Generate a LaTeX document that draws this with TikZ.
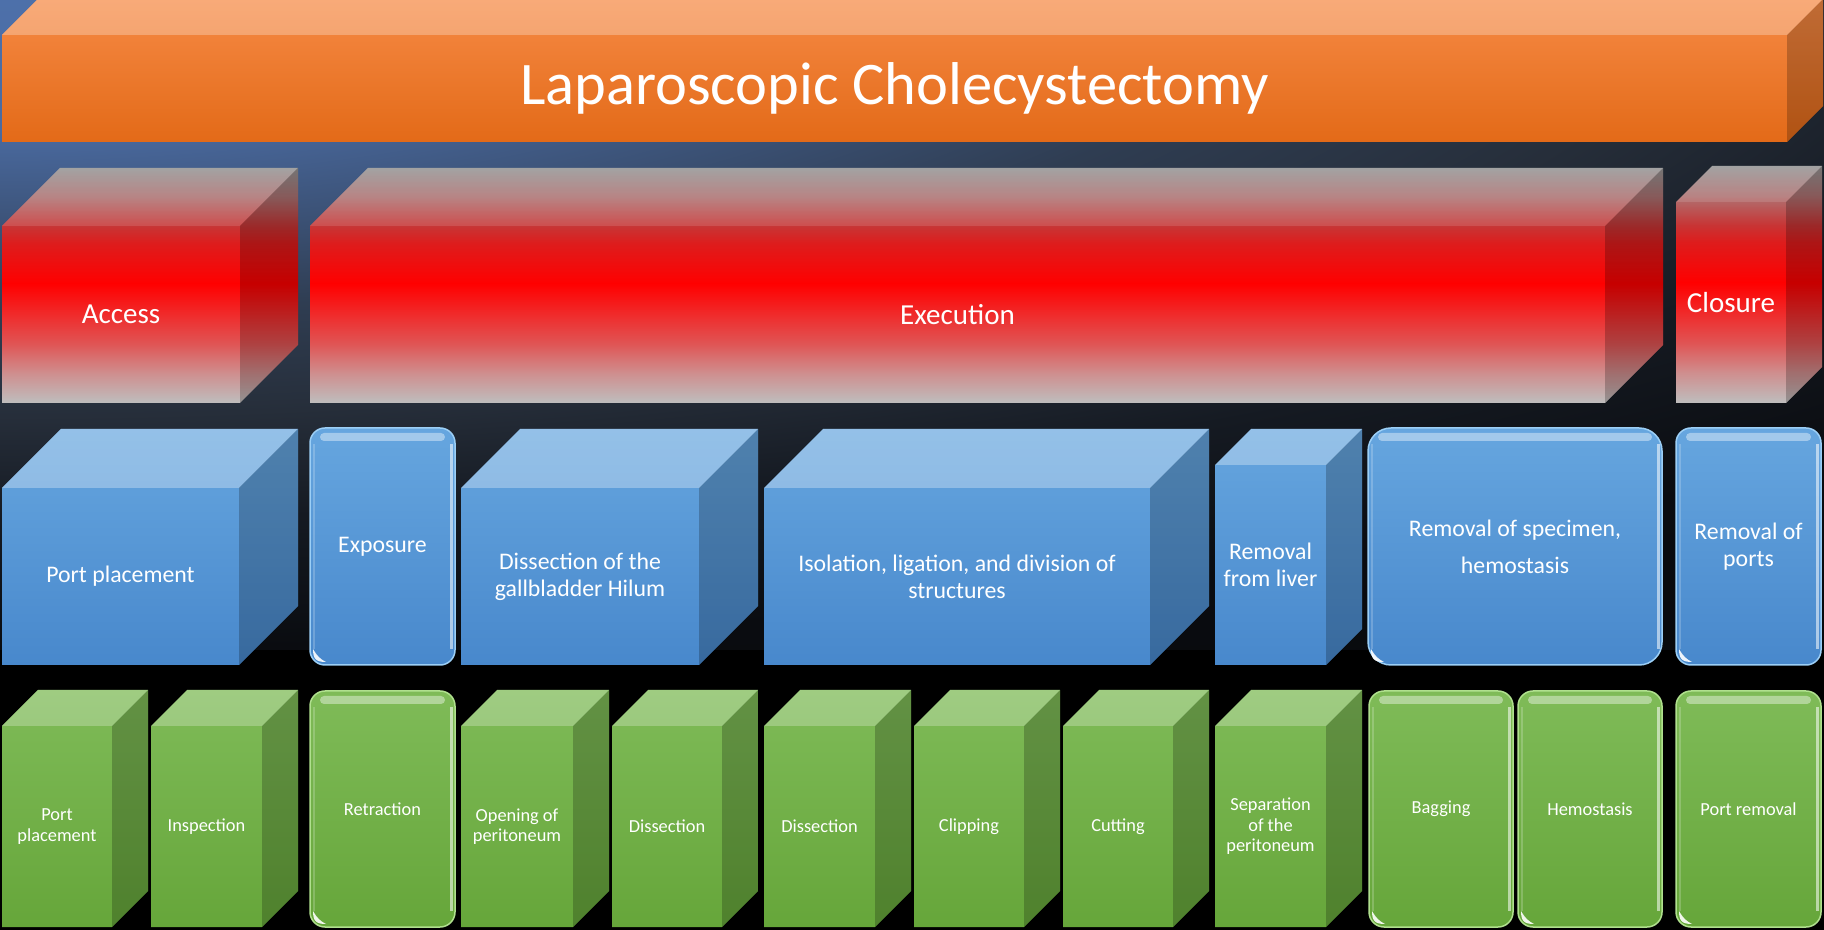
\documentclass[tikz,border=0pt]{standalone}
\usepackage{fontspec}
\setmainfont{Carlito}

\definecolor{bgA}{HTML}{4D70AA}
\definecolor{bgB}{HTML}{4A6AA0}
\definecolor{bgC}{HTML}{2F3D52}
\definecolor{bgD}{HTML}{262E3A}
\definecolor{bgE}{HTML}{151A22}
\definecolor{bgF}{HTML}{0A0C10}
\definecolor{redA}{HTML}{BEBEBE}
\definecolor{redB}{HTML}{CF8E8E}
\definecolor{redC}{HTML}{E05454}
\definecolor{redD}{HTML}{F02A2A}
\definecolor{redE}{HTML}{FF0000}
\definecolor{redF}{HTML}{DE1C1C}
\definecolor{redG}{HTML}{C83434}
\definecolor{redH}{HTML}{AE7474}
\definecolor{redI}{HTML}{969696}
\definecolor{orangeA}{HTML}{F68A45}
\definecolor{orangeB}{HTML}{E36A18}
\definecolor{blueA}{HTML}{66A6DF}
\definecolor{blueB}{HTML}{4888CC}
\definecolor{blueEdge}{HTML}{9CCFF6}
\definecolor{greenA}{HTML}{7FBB58}
\definecolor{greenB}{HTML}{66A63A}
\definecolor{greenEdge}{HTML}{B0E08E}

\pgfdeclareradialshading{bgglow}{\pgfpointorigin}{color(0bp)=(bgA); color(5bp)=(bgB);
  color(12bp)=(bgC); color(16bp)=(bgD); color(20bp)=(bgE); color(25bp)=(bgF); color(50bp)=(black)}
\pgfdeclareverticalshading{redglow}{100bp}{color(0bp)=(redA); color(25bp)=(redA);
  color(31.4bp)=(redB); color(37.7bp)=(redC); color(44bp)=(redD); color(50.4bp)=(redE);
  color(58.9bp)=(redF); color(62.5bp)=(redG); color(68.9bp)=(redH); color(75bp)=(redI); color(100bp)=(redI)}

\tikzset{
  orangebody/.style={top color=orangeA, bottom color=orangeB},
  redbody/.style={shading=redglow},
  bluebody/.style={top color=blueA, bottom color=blueB},
  greenbody/.style={top color=greenA, bottom color=greenB},
  orangetop/.style={fill=white, fill opacity=.28},
  redtop/.style={fill=white, fill opacity=.12},
  bluetop/.style={fill=white, fill opacity=.3},
  greentop/.style={fill=white, fill opacity=.25},
  sideface/.style={fill=black, fill opacity=.22},
  label/.style={text=white, align=center, inner sep=0pt},
  orangetext/.style={label, font=\fontsize{17.2pt}{20pt}\selectfont},
  redtext/.style={label, font=\fontsize{8.25pt}{9.9pt}\selectfont},
  bluetext/.style={label, font=\fontsize{6.77pt}{7.68pt}\selectfont},
  greentext/.style={label, font=\fontsize{5.23pt}{5.83pt}\selectfont},
}

% box with top and side face: name, left, right, front top, bottom, depth, family, text
\newcommand\prism[8]{%
  \shade[#7body] (#2,#5) -- (#2,#4) -- (#2+#6,#4-#6) -- (#3+#6,#4-#6) -- (#3+#6,#5-#6) -- (#3,#5) -- cycle;
  \fill[#7top] (#2,#4) -- (#2+#6,#4-#6) -- (#3+#6,#4-#6) -- (#3,#4) -- cycle;
  \fill[sideface] (#3,#4) -- (#3+#6,#4-#6) -- (#3+#6,#5-#6) -- (#3,#5) -- cycle;
  \node[#7text] (#1) at ({(#2+#3)/2},{(#4+#5)/2}) {#8};}

% glossy rounded box: name, left, right, top, bottom, corner, family, text
\newcommand\pill[8]{%
  \shadedraw[#7body, draw=#7Edge, line width=0.15mm, rounded corners=#6] (#2,#4) rectangle (#3,#5);
  \fill[white, fill opacity=.4, rounded corners=0.4mm] (#2+10,#4+5) rectangle (#3-10,#4+13);
  \draw[white, draw opacity=.55, line width=0.3mm] (#3-4,#4+16) -- (#3-4,#5-16);
  \draw[white, draw opacity=.2, line width=0.2mm] (#2+4,#4+16) -- (#2+4,#5-16);
  \fill[white, fill opacity=.9] (#2+3,#5-16) .. controls (#2+3,#5-6) and (#2+6,#5-3) .. (#2+16,#5-3)
    .. controls (#2+10,#5-6) and (#2+7,#5-9) .. cycle;
  \node[#7text] (#1) at ({(#2+#3)/2},{(#4+#5)/2}) {#8};}

\begin{document}
\begin{tikzpicture}[x=0.1mm, y=-0.1mm]
  \useasboundingbox (0,0) rectangle (1824,930);
  \begin{scope}
    \clip (0,0) rectangle (1824,930);
    \fill[black] (0,0) rectangle (1824,930);
    \shade[shading=bgglow] (-2600,-650) rectangle (2600,650);
  \end{scope}

  % procedure
  \prism{title}{2}{1787}{35}{142}{36}{orange}{Laparoscopic Cholecystectomy}

  % phases
  \prism{access}{2}{240}{226}{403}{58}{red}{Access}
  \prism{execution}{310}{1605}{226}{403}{58}{red}{Execution}
  \prism{closure}{1676}{1786}{202}{403}{36}{red}{Closure}

  % steps
  \prism{portplace}{2}{239}{488}{665}{59}{blue}{Port placement}
  \pill{exposure}{310}{455}{428}{665}{1.5mm}{blue}{Exposure}
  \prism{hilum}{461}{699}{488}{665}{59}{blue}{Dissection of the\\gallbladder Hilum}
  \prism{isolation}{764}{1150}{488}{665}{59}{blue}{Isolation, ligation, and division of\\structures}
  \prism{liver}{1215}{1326}{465}{665}{36}{blue}{Removal\\from liver}
  \pill{specimen}{1368}{1662}{428}{665}{2.3mm}{blue}{Removal of specimen,\\[1mm]hemostasis}
  \pill{ports}{1676}{1821}{428}{665}{1.5mm}{blue}{Removal of\\ports}

  % actions
  \prism{gport}{2}{112}{726}{927}{36}{green}{Port\\placement}
  \prism{inspect}{151}{262}{726}{927}{36}{green}{Inspection}
  \pill{retract}{310}{455}{691}{927}{1.5mm}{green}{Retraction}
  \prism{opening}{461}{573}{726}{927}{36}{green}{Opening of\\peritoneum}
  \prism{dissecta}{612}{722}{726}{927}{36}{green}{Dissection}
  \prism{dissectb}{764}{875}{726}{927}{36}{green}{Dissection}
  \prism{clip}{914}{1024}{726}{927}{36}{green}{Clipping}
  \prism{cut}{1063}{1173}{726}{927}{36}{green}{Cutting}
  \prism{separate}{1215}{1326}{726}{927}{36}{green}{Separation\\of the\\peritoneum}
  \pill{bag}{1369}{1513}{691}{927}{1.5mm}{green}{Bagging}
  \pill{hemo}{1518}{1662}{691}{927}{1.5mm}{green}{Hemostasis}
  \pill{portout}{1676}{1821}{691}{927}{1.5mm}{green}{Port removal}
\end{tikzpicture}
\end{document}
